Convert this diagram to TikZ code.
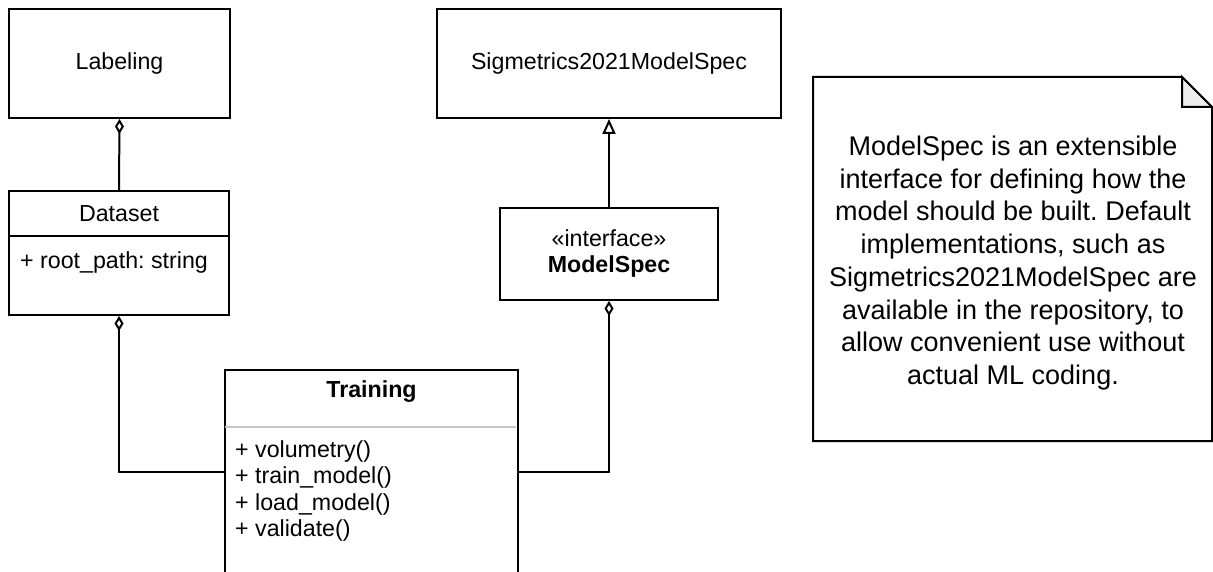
\documentclass[tikz,border=0pt]{standalone}
\usepackage{fontspec}
\setmainfont{Liberation Sans}
\usetikzlibrary{arrows.meta}
\frenchspacing

\tikzset{
  box/.style={draw, line width=2pt, rectangle, inner sep=0pt, fill=white},
  lbl/.style={inner sep=0pt, font=\fontsize{23.2}{27.8}\selectfont},
  agg/.style={line width=2pt, {Diamond[open, length=15pt, width=9pt]}-},
  inh/.style={line width=2pt, {Triangle[open, length=15pt, width=13pt]}-},
  divider/.style={line width=2pt},
}

\begin{document}
\begin{tikzpicture}[x=1pt, y=-1pt]
\clip (0,0) rectangle (1213,572);
\fill[white] (0,0) rectangle (1213,572);

% class boxes
\node[box, minimum width=221pt, minimum height=109pt] (labeling) at (119.5,63.5) {};
\node[lbl] (labelingT) at (labeling.center) {Labeling};

\node[box, minimum width=344pt, minimum height=109pt] (sigm) at (609,63.5) {};
\node[lbl] (sigmT) at (sigm.center) {Sigmetrics2021ModelSpec};

\node[box, minimum width=220pt, minimum height=124pt] (dataset) at (119,253) {};
\draw[divider] (dataset.north west) ++(0,46) -- ++(220,0);
\node[lbl] (datasetT) at (119,214) {Dataset};
\node[lbl, anchor=west] (datasetA) at (20,263) {+ root\_path: string};

\node[box, minimum width=218pt, minimum height=92pt] (modelspec) at (609,254) {};
\node[lbl, align=center, font=\fontsize{23.2}{26}\selectfont] (modelspecT) at (609,254)
  {«interface»\\\textbf{ModelSpec}};

\node[box, minimum width=293pt, minimum height=204pt] (training) at (371.5,472) {};
\node[lbl] (trainingT) at (371.5,392) {\textbf{Training}};
\draw[line width=2pt, black!22] (training.north west) ++(1,58) -- ++(291,0);
\node[lbl, anchor=north west, align=left, font=\fontsize{23.2}{26.6}\selectfont]
  (trainingM) at (235,440)
  {+ volumetry()\\+ train\_model()\\+ load\_model()\\+ validate()};

% note with folded corner
\draw[line width=2pt, fill=white, line join=miter]
  (813,77) -- (1182,77) -- (1212,107) -- (1212,441) -- (813,441) -- cycle;
\draw[line width=2pt, fill=black!7, line join=miter]
  (1182,77) -- (1182,107) -- (1212,107) -- cycle;
\node[lbl, align=center, font=\fontsize{27}{32.7}\selectfont] (noteT) at (1013,263)
  {ModelSpec is an extensible\\interface for defining how the\\model should be built. Default\\implementations, such as\\Sigmetrics2021ModelSpec are\\available in the repository, to\\allow convenient use without\\actual ML coding.};

% relations
\draw[agg] (labeling.south) -- (dataset.north);
\draw[inh] (sigm.south) -- (modelspec.north);
\draw[agg] (dataset.south) |- (training.west);
\draw[agg] (modelspec.south) |- (training.east);
\end{tikzpicture}
\end{document}
